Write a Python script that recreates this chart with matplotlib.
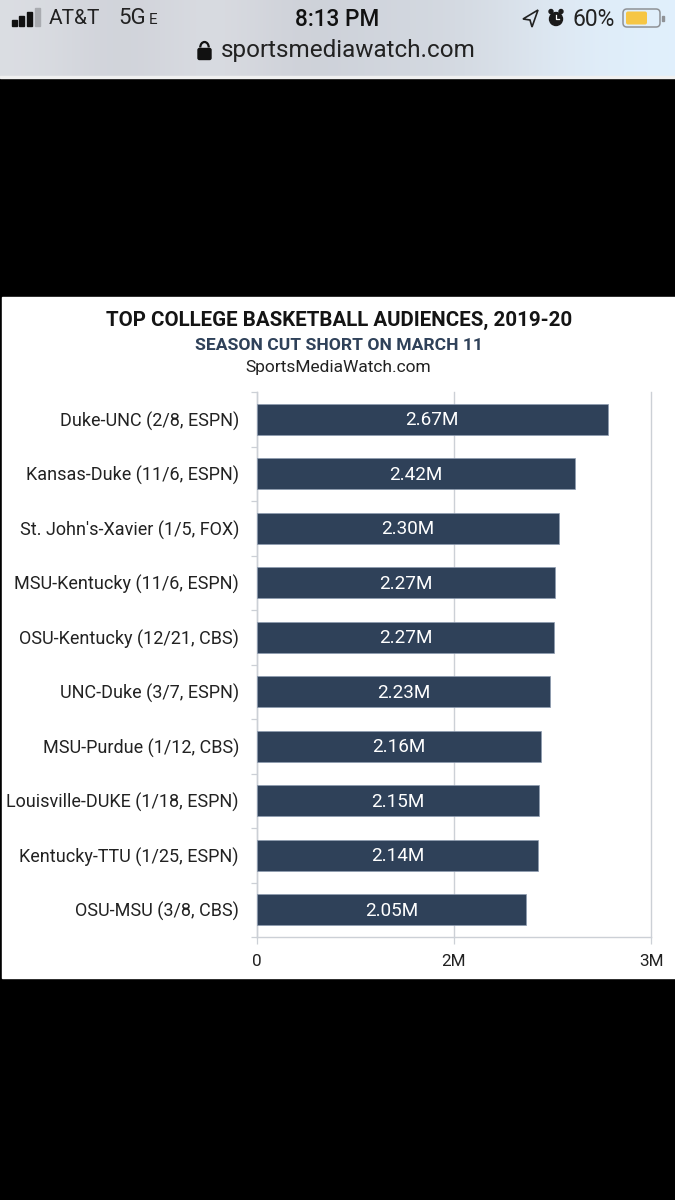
import matplotlib
matplotlib.use('Agg')
import matplotlib.pyplot as plt
import numpy as np
from matplotlib.patches import Rectangle, FancyBboxPatch, Circle, Polygon, Arc

games = ["Duke-UNC (2/8, ESPN)", "Kansas-Duke (11/6, ESPN)", "St. John's-Xavier (1/5, FOX)",
         "MSU-Kentucky (11/6, ESPN)", "OSU-Kentucky (12/21, CBS)", "UNC-Duke (3/7, ESPN)",
         "MSU-Purdue (1/12, CBS)", "Louisville-DUKE (1/18, ESPN)", "Kentucky-TTU (1/25, ESPN)",
         "OSU-MSU (3/8, CBS)"]
viewers = [2.67, 2.42, 2.30, 2.27, 2.26, 2.23, 2.16, 2.15, 2.14, 2.05]
value_labels = ["2.67M", "2.42M", "2.30M", "2.27M", "2.27M", "2.23M", "2.16M", "2.15M", "2.14M", "2.05M"]
x_ticks = [0, 1.5, 3]
x_ticklabels = ["0", "2M", "3M"]

W, H = 675, 1200
navy = "#2f4159"
plt.rcParams['font.family'] = ['Roboto', 'DejaVu Sans']

fig = plt.figure(figsize=(W / 100, H / 100), dpi=100, facecolor="black")

# page in pixel coordinates
bg = fig.add_axes([0, 0, 1, 1])
bg.set_xlim(0, W)
bg.set_ylim(H, 0)
bg.axis('off')

# phone status bar, grey with a pale blue right end
grad = np.array([[0.86, 0.87, 0.89], [0.80, 0.81, 0.84], [0.87, 0.88, 0.90], [0.80, 0.81, 0.84],
                 [0.82, 0.84, 0.87], [0.83, 0.85, 0.88], [0.87, 0.91, 0.95], [0.88, 0.94, 0.99]])
bg.imshow(grad[None, :, :], extent=(0, W, 77, 0), aspect='auto', interpolation='bicubic', zorder=0)
bg.set_xlim(0, W)
bg.set_ylim(H, 0)
for px, h, col in [(14, 6, "#111111"), (21, 10, "#111111"), (29, 14, "#111111"), (37, 18, "#a9abb0")]:
    bg.add_patch(Rectangle((px - 2.5, 26 - h), 5.5, h, color=col, zorder=2))
bg.text(49, 19, "AT&T", fontsize=15, va='center', color="#222222")
bg.text(118, 19, "5G", fontsize=16, va='center', color="#222222")
bg.text(149, 20, "E", fontsize=11, va='center', color="#222222")
bg.text(337, 19, "8:13 PM", fontsize=16.3, ha='center', va='center', color="#111111", fontweight='medium')
bg.add_patch(Polygon([[523, 19], [538, 10], [532, 27], [530, 20]], closed=True, fill=False,
                     edgecolor="#222222", linewidth=1.2, zorder=2))
bg.add_patch(Circle((556, 19), 6.5, color="#1a1a1a", zorder=2))
bg.add_patch(Circle((551, 11.5), 2, color="#1a1a1a", zorder=2))
bg.add_patch(Circle((561, 11.5), 2, color="#1a1a1a", zorder=2))
bg.plot([556, 556, 559], [15, 19, 19], color="white", linewidth=0.9, zorder=3)
bg.text(573, 19, "60%", fontsize=16.5, va='center', color="#222222")
bg.add_patch(FancyBboxPatch((623, 9), 37, 18, boxstyle="round,pad=0,rounding_size=4",
                            facecolor="none", edgecolor="#8f9296", linewidth=1.1, zorder=2))
bg.add_patch(FancyBboxPatch((626, 11.5), 21, 13, boxstyle="round,pad=0,rounding_size=2",
                            facecolor="#f6c644", edgecolor="none", zorder=3))
bg.add_patch(Rectangle((662, 15.5), 1.5, 5, color="#8f9296", zorder=2))

# address bar
bg.add_patch(FancyBboxPatch((198, 48.5), 13, 11, boxstyle="round,pad=0,rounding_size=1.5", color="#111111", zorder=2))
bg.add_patch(Arc((204.5, 47.5), 8.5, 11, theta1=180, theta2=360, color="#111111", linewidth=1.6, zorder=2))
bg.text(348.5, 51, "sportsmediawatch.com", fontsize=17.5, ha='center', va='center', color="#222222")
bg.add_patch(Rectangle((0, 76), W, 1.5, color="#f0f0f0", zorder=2))

# white chart panel
bg.add_patch(Rectangle((2, 297), W - 2, 681, color="white", zorder=1))
bg.text(339, 320, "TOP COLLEGE BASKETBALL AUDIENCES, 2019-20", fontsize=14.75, fontweight='bold',
        ha='center', va='center', color="#141414", zorder=2)
bg.text(339, 345, "SEASON CUT SHORT ON MARCH 11", fontsize=12.6, fontweight='bold',
        ha='center', va='center', color=navy, zorder=2)
bg.text(338.5, 367.5, "SportsMediaWatch.com", fontsize=12.5, ha='center', va='center', color="#222222", zorder=2)

# chart axes
x0, x1 = 257, 651
y0, y1 = 392, 937
ax = fig.add_axes([x0 / W, 1 - y1 / H, (x1 - x0) / W, (y1 - y0) / H])
ax.patch.set_alpha(0)
y = np.arange(len(games))
ax.barh(y, viewers, height=0.56, color=navy, edgecolor="#8d9bb0", linewidth=0.5, zorder=3)
for i, lab in enumerate(value_labels):
    ax.text(viewers[i] / 2, y[i] + 0.02, lab, ha='center', va='center', color="white", fontsize=13.6, zorder=4)

ax.set_xlim(0, 3)
ax.set_ylim(len(games) - 0.5, -0.5)
ax.set_xticks(x_ticks)
ax.set_xticklabels(x_ticklabels)
ax.set_yticks(y)
ax.set_yticklabels(games)
ax.set_yticks(np.arange(-0.5, len(games)), minor=True)
ax.tick_params(axis='y', which='major', length=0, pad=13, labelsize=12.95, labelcolor="#222222")
ax.tick_params(axis='y', which='minor', length=4, width=0.9, color="#ccd0d6")
ax.tick_params(axis='x', length=5, width=0.9, color="#ccd0d6", pad=7, labelsize=12.3, labelcolor="#222222")
ax.grid(axis='x', color="#ccd0d6", linewidth=1, zorder=0, clip_on=False)
for side in ['top', 'right']:
    ax.spines[side].set_visible(False)
for side in ['left', 'bottom']:
    ax.spines[side].set_color("#ccd0d6")
    ax.spines[side].set_linewidth(1)

plt.savefig('out.png', dpi=100, facecolor="black")
plt.clf()
